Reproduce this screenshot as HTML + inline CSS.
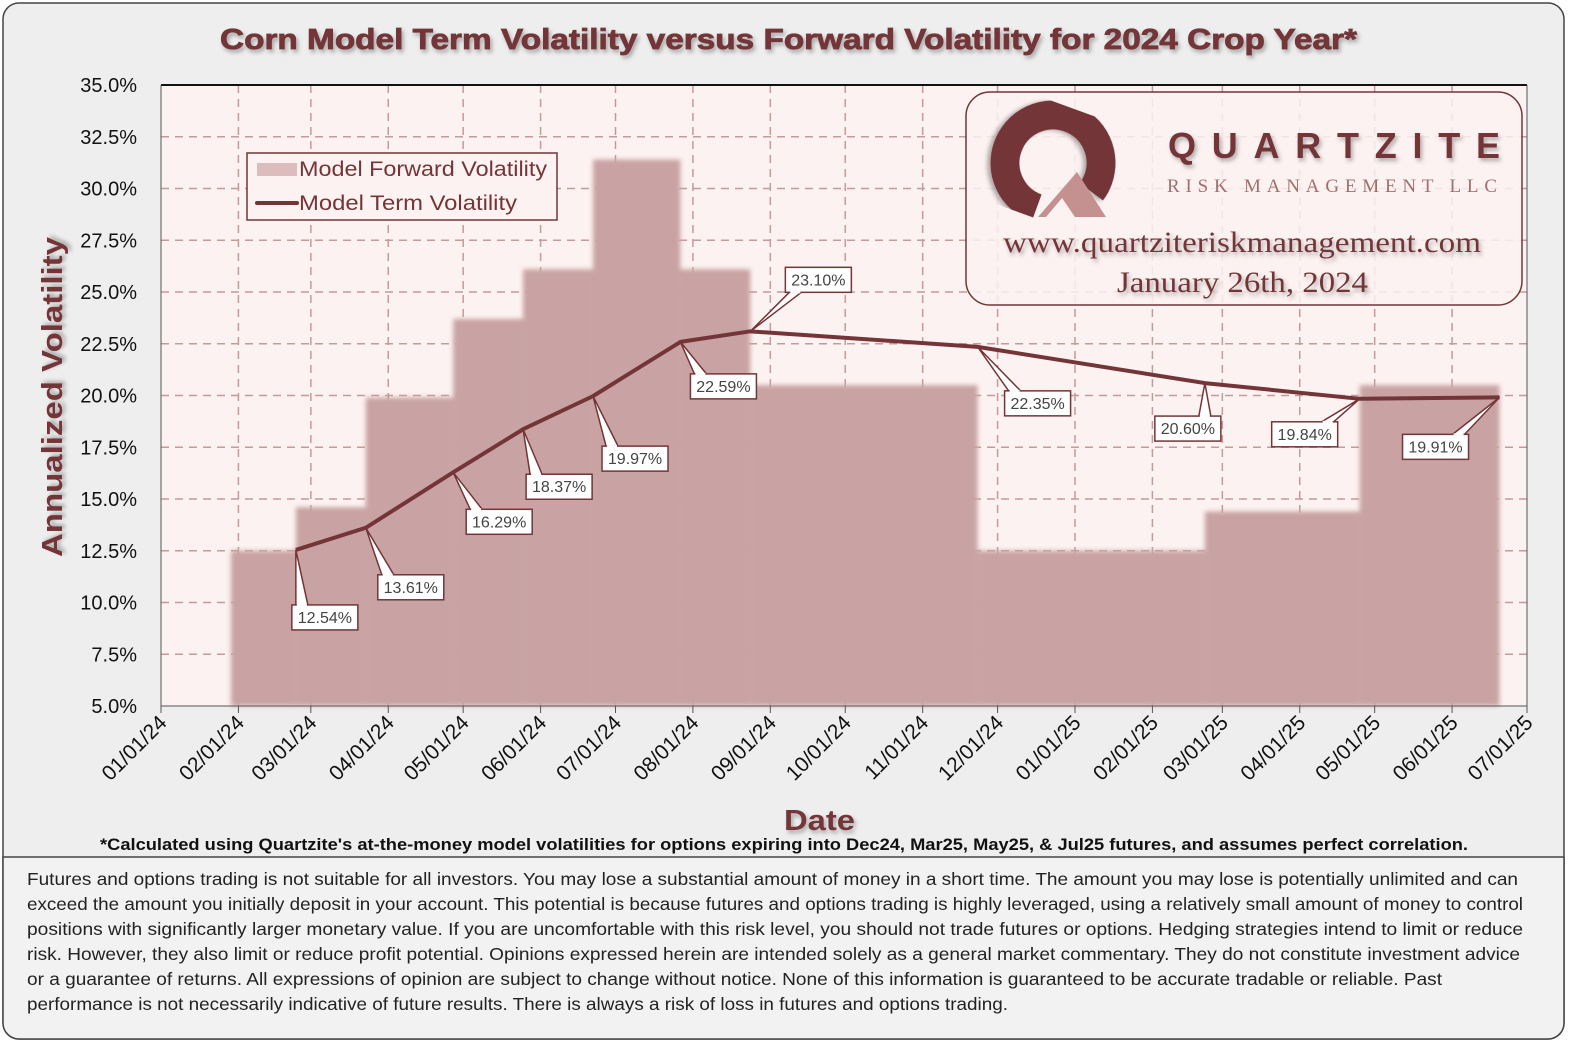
<!DOCTYPE html>
<html><head><meta charset="utf-8"><style>
body{margin:0;background:#fff;overflow:hidden;}
svg{display:block;}
</style></head><body>
<svg width="1587" height="1055" viewBox="0 0 1587 1055" xmlns="http://www.w3.org/2000/svg">
<defs>
<filter id="sh" x="-10%" y="-30%" width="120%" height="160%"><feDropShadow dx="2" dy="3" stdDeviation="2" flood-color="#000" flood-opacity="0.3"/></filter>
<filter id="blur" x="-5%" y="-5%" width="110%" height="110%"><feGaussianBlur stdDeviation="2.5"/></filter>
</defs>
<rect x="3" y="3" width="1561" height="1036" rx="16" fill="#eeeeee" stroke="#444" stroke-width="1.5"/>
<path d="M3 857 H1564 V1023 a16 16 0 0 1 -16 16 H19 a16 16 0 0 1 -16 -16 Z" fill="#f2f2f2" stroke="#444" stroke-width="1.5"/>
<text x="220" y="49" textLength="1137" lengthAdjust="spacingAndGlyphs" font-family="Liberation Sans, sans-serif" font-weight="bold" font-size="29" stroke="#733538" stroke-width="0.8" fill="#733538" filter="url(#sh)">Corn Model  Term Volatility versus Forward Volatility for 2024 Crop Year*</text>
<rect x="161" y="85" width="1366" height="621" fill="#fcf2f1"/>
<g id="grid"></g>
<g id="bars" filter="url(#blur)"></g>
<line x1="161" y1="85" x2="1527" y2="85" stroke="#111" stroke-width="2"/>
<line x1="161" y1="85" x2="161" y2="706" stroke="#555" stroke-width="1"/>
<line x1="161" y1="706" x2="1527" y2="706" stroke="#555" stroke-width="1"/>
<line x1="1527" y1="85" x2="1527" y2="706" stroke="#555" stroke-width="1"/>
<g id="yt"></g><g id="xt"></g>
<g id="line"></g>
<g id="labels"></g>
<g>
<rect x="247" y="153" width="310" height="67" fill="#fcf2f1" stroke="#733538" stroke-width="1.5"/>
<rect x="257" y="163" width="40" height="13" fill="#dcbcbc"/>
<line x1="257" y1="203" x2="297" y2="203" stroke="#733538" stroke-width="4" stroke-linecap="round"/>
<text x="299" y="176" textLength="248" lengthAdjust="spacingAndGlyphs" font-family="Liberation Sans, sans-serif" font-size="21" fill="#733538">Model Forward Volatility</text>
<text x="299" y="210" textLength="218" lengthAdjust="spacingAndGlyphs" font-family="Liberation Sans, sans-serif" font-size="21" fill="#733538">Model Term Volatility</text>
</g>
<g>
<rect x="966" y="92" width="556" height="213" rx="24" fill="#fcf2f1" fill-opacity="0.85" stroke="#733538" stroke-width="1.5"/>
<circle cx="1053" cy="163" r="48" fill="none" stroke="#733538" stroke-width="29" stroke-dasharray="240 61.6" transform="rotate(110 1053 163)" filter="url(#sh)"/>
<polygon points="1038,217 1077,172 1106,217" fill="#c49090"/>
<polygon points="1046,217 1062,198 1075,217" fill="#fcf2f1"/>
<text x="1168" y="158" textLength="332" lengthAdjust="spacing" font-family="Liberation Sans, sans-serif" font-weight="bold" font-size="36" fill="#733538" filter="url(#sh)">QUARTZITE</text>
<text x="1167" y="192" textLength="330" lengthAdjust="spacing" font-family="Liberation Serif, serif" font-size="19" fill="#a07070">RISK MANAGEMENT LLC</text>
<text x="1003" y="252" textLength="478" lengthAdjust="spacingAndGlyphs" font-family="Liberation Serif, serif" font-size="30" fill="#733538" filter="url(#sh)">www.quartziteriskmanagement.com</text>
<text x="1117" y="292" textLength="251" lengthAdjust="spacingAndGlyphs" font-family="Liberation Serif, serif" font-size="30" fill="#733538" filter="url(#sh)">January 26th, 2024</text>
</g>
<text transform="translate(62,397) rotate(-90)" text-anchor="middle" textLength="320" lengthAdjust="spacingAndGlyphs" font-family="Liberation Sans, sans-serif" font-weight="bold" font-size="29" fill="#733538" filter="url(#sh)">Annualized Volatility</text>
<text x="784" y="830" textLength="71" lengthAdjust="spacingAndGlyphs" font-family="Liberation Sans, sans-serif" font-weight="bold" font-size="29" fill="#733538" filter="url(#sh)">Date</text>
<text x="100" y="850" textLength="1368" lengthAdjust="spacingAndGlyphs" font-family="Liberation Sans, sans-serif" font-weight="bold" font-size="17" fill="#111">*Calculated using Quartzite's at-the-money model volatilities for options expiring into Dec24, Mar25, May25, &amp; Jul25 futures, and assumes perfect correlation.</text>
<g font-family="Liberation Sans, sans-serif" font-size="17.3" fill="#222">
<text x="27" y="885" textLength="1491" lengthAdjust="spacingAndGlyphs">Futures and options trading is not suitable for all investors. You may lose a substantial amount of money in a short time. The amount you may lose is potentially unlimited and can</text>
<text x="27" y="910" textLength="1496" lengthAdjust="spacingAndGlyphs">exceed the amount you initially deposit in your account. This potential is because futures and options trading is highly leveraged, using a relatively small amount of money to control</text>
<text x="27" y="935" textLength="1496" lengthAdjust="spacingAndGlyphs">positions with significantly larger monetary value. If you are uncomfortable with this risk level, you should not trade futures or options. Hedging strategies intend to limit or reduce</text>
<text x="27" y="960" textLength="1493" lengthAdjust="spacingAndGlyphs">risk. However, they also limit or reduce profit potential. Opinions expressed herein are intended solely as a general market commentary. They do not constitute investment advice</text>
<text x="27" y="985" textLength="1415" lengthAdjust="spacingAndGlyphs">or a guarantee of returns. All expressions of opinion are subject to change without notice. None of this information is guaranteed to be accurate tradable or reliable. Past</text>
<text x="27" y="1010" textLength="981" lengthAdjust="spacingAndGlyphs">performance is not necessarily indicative of future results. There is always a risk of loss in futures and options trading.</text>
</g>
</svg>
<script>
const NS='http://www.w3.org/2000/svg';
// days since 2024-01-01
const expiryDays=[28,54,82,117,145,173,208,236,327,418,480,536];
const forwardVol=[12.5,14.6,19.9,23.7,26.1,31.4,26.1,20.5,12.5,14.4,20.5];
const termVol=[12.54,13.61,16.29,18.37,19.97,22.59,23.10,22.35,20.60,19.84,19.91];
const termLabels=['12.54%','13.61%','16.29%','18.37%','19.97%','22.59%','23.10%','22.35%','20.60%','19.84%','19.91%'];
const xTickLabels=['01/01/24','02/01/24','03/01/24','04/01/24','05/01/24','06/01/24','07/01/24','08/01/24','09/01/24','10/01/24','11/01/24','12/01/24','01/01/25','02/01/25','03/01/25','04/01/25','05/01/25','06/01/25','07/01/25'];
const xTickDays=[0,31,60,91,121,152,182,213,244,274,305,335,366,397,425,456,486,517,547];
const yTicks=[5,7.5,10,12.5,15,17.5,20,22.5,25,27.5,30,32.5,35];
const X=d=>161+d*1366/547;
const Y=v=>706-(v-5)*621/30;
function mk(t,a,p){const e=document.createElementNS(NS,t);for(const k in a)e.setAttribute(k,a[k]);p.appendChild(e);return e;}
const grid=document.getElementById('grid');
yTicks.forEach((v,i)=>{ if(i>0&&i<yTicks.length-1){const l=mk('line',{x1:161,x2:1527,y1:Y(v),y2:Y(v),stroke:'#c49a9a','stroke-width':1.5,'stroke-dasharray':'8 6'},grid);

}
const t=mk('text',{x:137,y:Y(v)+7,'text-anchor':'end','font-family':'Liberation Sans, sans-serif','font-size':20,fill:'#111'},document.getElementById('yt'));t.textContent=v.toFixed(1)+'%';

});
xTickDays.forEach((d,i)=>{const x=X(d);
if(i>0&&i<xTickDays.length-1){const l=mk('line',{x1:x,x2:x,y1:85,y2:706,stroke:'#c49a9a','stroke-width':1.5,'stroke-dasharray':'8 6'},grid);

}
mk('line',{x1:x,x2:x,y1:706,y2:713,stroke:'#555'},document.getElementById('xt'));
const t=mk('text',{transform:`translate(${x+7},${724}) rotate(-45)`,'text-anchor':'end','font-family':'Liberation Sans, sans-serif','font-size':21,fill:'#111'},document.getElementById('xt'));t.textContent=xTickLabels[i];

});
const bars=document.getElementById('bars');
forwardVol.forEach((v,i)=>{const x0=X(expiryDays[i]),x1=X(expiryDays[i+1]);
const r=mk('rect',{x:x0,y:Y(v),width:x1-x0,height:706-Y(v),fill:'#c9a3a3'},bars);

});
const pts=termVol.map((v,i)=>[X(expiryDays[i+1]),Y(v)]);
const pl=mk('polyline',{points:pts.map(p=>p.join(',')).join(' '),fill:'none',stroke:'#733538','stroke-width':4,'stroke-linejoin':'round'},document.getElementById('line'));


// label box offsets (layout only): top-left of box relative to point
const offs=[[-4,55],[12,47],[13,37],[3,45],[9,50],[10,32],[35,-64],[27,44],[-50,33],[-88,23],[-97,37]];
const lg=document.getElementById('labels');
pts.forEach((p,i)=>{const bx=p[0]+offs[i][0],by=p[1]+offs[i][1],w=66,h=25;
const below=offs[i][1]>0;
const ax=Math.min(Math.max(p[0],bx+10),bx+w-10);
const ey=below?by:by+h;
const g=mk('g',{},lg);


mk('path',{d:`M${ax-6},${ey} L${p[0]},${p[1]} L${ax+6},${ey}`,fill:'#fff',stroke:'#733538','stroke-width':1.5},g);
mk('rect',{x:bx,y:by,width:w,height:h,fill:'#fff',stroke:'#733538','stroke-width':1.5},g);
mk('line',{x1:ax-5,x2:ax+5,y1:ey,y2:ey,stroke:'#fff','stroke-width':2},g);
const t=mk('text',{x:bx+w/2,y:by+18,'text-anchor':'middle','font-family':'Liberation Sans, sans-serif','font-size':16,fill:'#444'},g);t.textContent=termLabels[i];});
</script>
</body></html>
